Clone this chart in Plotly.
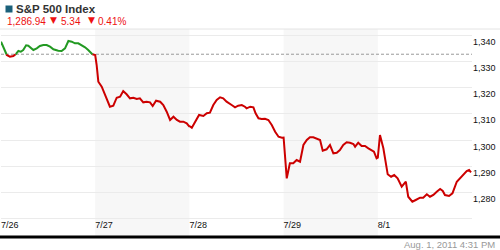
import plotly.graph_objects as go

# ---- data ----
sessions = ["7/26", "7/27", "7/28", "7/29", "8/1"]
y_ticks = [1270, 1280, 1290, 1300, 1310, 1320, 1330, 1340]
y_labelled_from = 1280      # lowest gridline carries no label
ref_close = 1332.9          # dashed reference line
last_price = "1,286.94"
chg_pts = "5.34"
chg_pct = "0.41%"
stamp = "Aug. 1, 2011 4:31 PM"

# minutes after the 9:30 open, and index level, for each session
min_0726 = [0, 12, 24, 37, 51, 62, 72, 82, 92, 104, 113, 127, 134, 148, 161, 175, 189, 203, 217,
            237, 251, 265, 279, 293, 306, 320, 334, 348, 361, 375, 389]
px_0726 = [1337.70, 1335.17, 1332.60, 1331.95, 1332.22, 1332.99, 1334.14, 1333.87, 1334.52, 1336.32,
           1336.17, 1335.17, 1334.52, 1335.17, 1336.05, 1336.44, 1336.44, 1335.78, 1334.79, 1334.25,
           1334.14, 1335.17, 1337.97, 1337.70, 1337.09, 1337.09, 1336.44, 1335.55, 1334.52, 1332.99,
           1332.60]
min_0727 = [0, 6, 13, 27, 41, 54, 61, 75, 89, 103, 116, 130, 144, 158, 172, 185, 199, 213, 227, 238,
            252, 269, 282, 296, 310, 324, 338, 351, 365, 379, 390]
px_0727 = [1332.60, 1328.77, 1322.37, 1320.45, 1317.27, 1314.09, 1312.79, 1313.17, 1316.24, 1316.62,
           1318.80, 1317.54, 1316.01, 1316.24, 1315.74, 1316.01, 1314.47, 1314.70, 1314.47, 1313.05,
           1315.09, 1314.70, 1313.44, 1310.87, 1307.69, 1308.95, 1307.69, 1307.04, 1307.04, 1306.42,
           1305.12]
min_0728 = [0, 10, 23, 40, 58, 72, 85, 99, 113, 127, 140, 154, 175, 189, 202, 217, 230, 237, 252, 265,
            274, 286, 299, 313, 327, 341, 355, 369, 383, 390]
px_0728 = [1305.40, 1304.74, 1306.81, 1309.61, 1309.22, 1310.26, 1310.49, 1313.44, 1315.35, 1316.39,
           1316.01, 1314.70, 1313.44, 1312.56, 1313.17, 1313.44, 1312.79, 1312.17, 1312.79, 1312.56,
           1310.26, 1308.34, 1308.07, 1308.19, 1307.69, 1305.77, 1303.20, 1301.29, 1300.90, 1300.98]
min_0729 = [0, 13, 26, 40, 54, 68, 82, 96, 109, 123, 137, 151, 162, 178, 192, 206, 220, 233, 247, 261,
            275, 289, 296, 309, 323, 337, 351, 365, 374, 385, 390]
px_0729 = [1300.98, 1285.34, 1291.09, 1291.09, 1292.36, 1291.71, 1298.11, 1300.02, 1301.06, 1301.06,
           1300.67, 1300.02, 1295.92, 1296.46, 1298.11, 1294.93, 1295.16, 1296.19, 1298.11, 1299.14,
           1298.99, 1298.49, 1297.46, 1298.99, 1297.72, 1297.72, 1296.84, 1295.92, 1295.54, 1293.01,
           1293.30]
min_0801 = [0, 9, 23, 41, 55, 68, 82, 99, 116, 126, 143, 157, 175, 188, 203, 216, 230, 244, 258, 269,
            278, 295, 309, 327, 341, 354, 368, 378, 386]
px_0801 = [1293.30, 1301.94, 1296.84, 1286.88, 1285.96, 1286.61, 1285.34, 1282.12, 1284.04, 1278.29,
           1276.37, 1277.03, 1277.91, 1277.91, 1279.21, 1278.29, 1278.94, 1280.21, 1281.24, 1280.48,
           1278.94, 1278.56, 1279.59, 1284.04, 1285.34, 1286.61, 1288.14, 1288.52, 1287.64]

SESSION_MIN = 390
day_minutes = [min_0726, min_0727, min_0728, min_0729, min_0801]
day_prices = [px_0726, px_0727, px_0728, px_0729, px_0801]

xs, ys = [], []
for d, (mins, prices) in enumerate(zip(day_minutes, day_prices)):
    for m, p in zip(mins, prices):
        xs.append(d + m / SESSION_MIN)
        ys.append(p)

# split into above (green) / below (red) the reference, adding crossing points
dx, dy = [xs[0]], [ys[0]]
for i in range(1, len(xs)):
    x0, y0, x1, y1 = xs[i - 1], ys[i - 1], xs[i], ys[i]
    if (y0 - ref_close) * (y1 - ref_close) < 0:
        dx.append(x0 + (x1 - x0) * (ref_close - y0) / (y1 - y0))
        dy.append(ref_close)
    dx.append(x1)
    dy.append(y1)
green_y = [v if v >= ref_close else None for v in dy]
red_y = [v if v <= ref_close else None for v in dy]

GREEN = "#229922"
RED = "#cc0000"
FONT = "Liberation Sans, Arial, sans-serif"

fig = go.Figure()
fig.add_trace(go.Scatter(x=dx, y=red_y, mode="lines", line=dict(color=RED, width=2),
                         connectgaps=False, hoverinfo="skip"))
fig.add_trace(go.Scatter(x=dx, y=green_y, mode="lines", line=dict(color=GREEN, width=2),
                         connectgaps=False, hoverinfo="skip"))

# geometry helpers (pixels -> paper)
L, R, T, B, W, H = 1, 28, 29, 14, 500, 250
PW, PH = W - L - R, H - T - B
def px_x(p):
    return (p - L) / PW
def px_y(p):
    return (H - B - p) / PH

shapes = []
# shaded alternate sessions
for d in range(len(sessions)):
    if d % 2 == 1:
        shapes.append(dict(type="rect", xref="x", yref="paper", x0=d, x1=d + 1, y0=0, y1=1,
                           fillcolor="#f7f7f7", line=dict(width=0), layer="below"))
# reference dashed line
shapes.append(dict(type="line", xref="paper", yref="y", x0=0, x1=1, y0=ref_close, y1=ref_close,
                   line=dict(color="#999999", width=1, dash="3px,2px"), layer="below"))
# top border line
shapes.append(dict(type="line", xref="paper", yref="paper", x0=px_x(0), x1=px_x(500), y0=1, y1=1,
                   line=dict(color="#e4e4e4", width=1)))
# bottom black axis line
shapes.append(dict(type="line", xref="paper", yref="paper", x0=px_x(0), x1=px_x(500),
                   y0=px_y(237), y1=px_y(237), line=dict(color="#000000", width=3)))
# legend square
shapes.append(dict(type="rect", xref="paper", yref="paper", x0=px_x(5.5), x1=px_x(12.5),
                   y0=px_y(12.5), y1=px_y(5.5), fillcolor="#1b607a", line=dict(width=0)))

annotations = [
    dict(text="<b>S&amp;P 500 Index</b>", x=px_x(14), y=px_y(9), xanchor="left", yanchor="middle",
         font=dict(family=FONT, size=11.5, color="#333333")),
    dict(text=last_price, x=px_x(5), y=px_y(21), xanchor="left", yanchor="middle",
         font=dict(family=FONT, size=10, color="#ee1111")),
    dict(text="▼", x=px_x(53.5), y=px_y(19.5), xanchor="center", yanchor="middle",
         font=dict(family="DejaVu Sans", size=9, color="#ee1111")),
    dict(text=chg_pts, x=px_x(59), y=px_y(21), xanchor="left", yanchor="middle",
         font=dict(family=FONT, size=10, color="#ee1111")),
    dict(text="▼", x=px_x(91.5), y=px_y(19.5), xanchor="center", yanchor="middle",
         font=dict(family="DejaVu Sans", size=9, color="#ee1111")),
    dict(text=chg_pct, x=px_x(96), y=px_y(21), xanchor="left", yanchor="middle",
         font=dict(family=FONT, size=10, color="#ee1111")),
    dict(text=stamp, x=px_x(497), y=px_y(244), xanchor="right", yanchor="middle",
         font=dict(family=FONT, size=9.5, color="#999999")),
]
for a in annotations:
    a.update(xref="paper", yref="paper", showarrow=False)

y_text = [f"{v:,}" if v >= y_labelled_from else "" for v in y_ticks]

fig.update_layout(
    width=W, height=H, margin=dict(l=L, r=R, t=T, b=B, pad=0),
    paper_bgcolor="white", plot_bgcolor="white", showlegend=False,
    shapes=shapes, annotations=annotations,
    font=dict(family=FONT, size=9, color="#222222"),
    xaxis=dict(range=[0, len(sessions)], tickvals=list(range(len(sessions))), ticktext=sessions,
               showgrid=False, zeroline=False, showline=False, ticks="",
               ticklabelposition="inside right", tickfont=dict(size=9, color="#111111"),
               fixedrange=True),
    yaxis=dict(range=[1263.23, 1342.57], side="right", tickvals=y_ticks, ticktext=y_text,
               showgrid=True, gridcolor="#ebebeb", gridwidth=1, zeroline=False, showline=False,
               ticks="", ticklabelposition="outside bottom", tickfont=dict(size=9, color="#111111"),
               fixedrange=True),
)

fig.write_html("out.html", config={"displayModeBar": False})
